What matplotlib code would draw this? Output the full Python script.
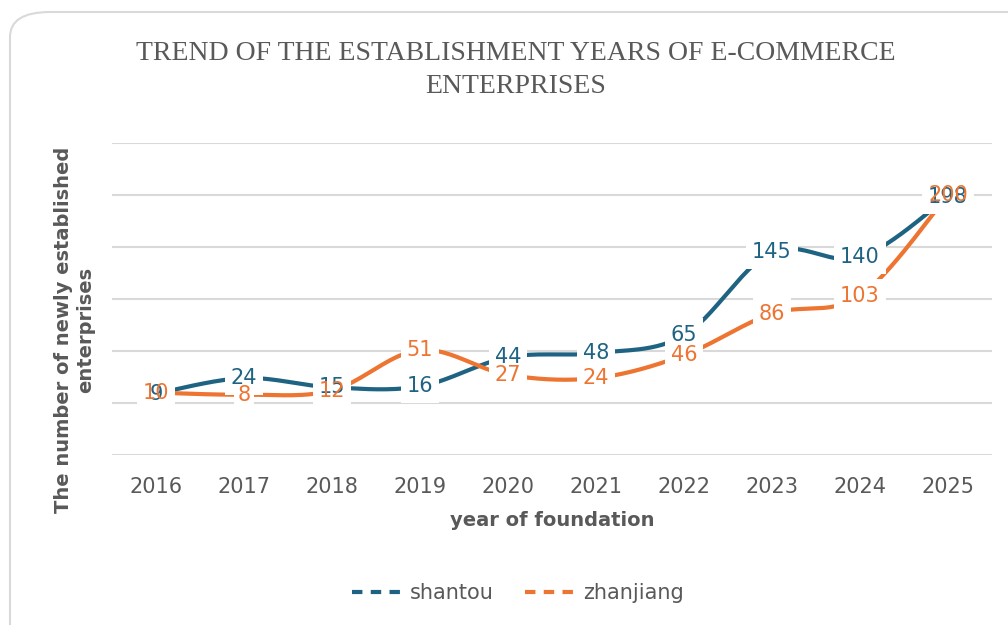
import numpy as np
import matplotlib.pyplot as plt
from matplotlib.lines import Line2D
from matplotlib.patches import FancyBboxPatch

years = ['2016', '2017', '2018', '2019', '2020', '2021', '2022', '2023', '2024', '2025']
shantou = [9, 24, 15, 16, 44, 48, 65, 145, 140, 198]
zhanjiang = [10, 8, 12, 51, 27, 24, 46, 86, 103, 200]

c_blue = '#1F6383'
c_orange = '#ED7431'
c_text = '#595959'
narrow = ['Liberation Sans Narrow', 'DejaVu Sans Condensed', 'DejaVu Sans']


def smooth(xs, ys, n=30):
    # catmull-rom curve through the points, like Excel's smoothed line
    xs = np.asarray(xs, float)
    ys = np.asarray(ys, float)
    px = np.concatenate([[xs[0]], xs, [xs[-1]]])
    py = np.concatenate([[ys[0]], ys, [ys[-1]]])
    ox, oy = [], []
    for i in range(1, len(px) - 2):
        t = np.linspace(0, 1, n)
        for arr, out in ((px, ox), (py, oy)):
            p0, p1, p2, p3 = arr[i - 1], arr[i], arr[i + 1], arr[i + 2]
            out.extend(0.5 * ((2 * p1) + (-p0 + p2) * t
                              + (2 * p0 - 5 * p1 + 4 * p2 - p3) * t ** 2
                              + (-p0 + 3 * p1 - 3 * p2 + p3) * t ** 3))
    return ox, oy


fig = plt.figure(figsize=(10.08, 6.25), dpi=100)
border = FancyBboxPatch((10 / 1008, -0.05), 1.1, 1 - 12 / 625 + 0.05,
                        boxstyle='round,pad=0,rounding_size=0.04',
                        transform=fig.transFigure, facecolor='white',
                        edgecolor='#D9D9D9', linewidth=1.5, zorder=-10)
fig.patches.append(border)

ax = fig.add_axes([112 / 1008, 1 - 455 / 625, 880 / 1008, 312 / 625])
ax.set_facecolor('none')
x = np.arange(len(years))

for vals, col in ((shantou, c_blue), (zhanjiang, c_orange)):
    sx, sy = smooth(x, vals)
    ax.plot(sx, sy, color=col, linewidth=3, solid_capstyle='butt', zorder=3)

# white label backgrounds as box markers, then the numbers on top
for vals in (shantou, zhanjiang):
    for xi, v in zip(x, vals):
        w = len(str(v)) * 9.5 + 9
        h = 24 / w
        ax.plot(xi, v, marker=[(-1, -h), (1, -h), (1, h), (-1, h)],
                markersize=w, color='white', markeredgewidth=0, zorder=4)
for vals, col in ((shantou, c_blue), (zhanjiang, c_orange)):
    for xi, v in zip(x, vals):
        ax.text(xi, v, str(v), color=col, fontsize=15, ha='center', va='center',
                zorder=5)

ax.set_xlim(-0.5, len(years) - 0.5)
ax.set_ylim(-50, 250)
ax.set_yticks(np.arange(-50, 251, 50))
ax.set_yticklabels([])
ax.grid(axis='y', color='#D9D9D9', linewidth=1.5)
ax.set_axisbelow(True)
ax.tick_params(axis='y', length=0)
ax.tick_params(axis='x', length=0, pad=16, labelcolor=c_text)
ax.set_xticks(x)
ax.set_xticklabels(years, fontsize=15, family=narrow)
for s in ax.spines.values():
    s.set_visible(False)

ax.set_xlabel('year of foundation', fontsize=14, fontweight='bold', color=c_text,
              family=narrow, labelpad=10)
fig.text(75 / 1008, 1 - 330 / 625, 'The number of newly established\nenterprises',
         rotation=90, ha='center', va='center', fontsize=14, fontweight='bold',
         color=c_text, family=narrow, linespacing=1.2)

fig.text(516 / 1008, 1 - 70 / 625,
         'TREND OF THE ESTABLISHMENT YEARS OF E-COMMERCE\nENTERPRISES',
         ha='center', va='center', fontsize=20, color=c_text,
         family=['Liberation Serif', 'DejaVu Serif'], linespacing=1.45)

handles = [Line2D([], [], color=c_blue, linewidth=3, linestyle=(0, (2.5, 2))),
           Line2D([], [], color=c_orange, linewidth=3, linestyle=(0, (2.5, 2)))]
fig.legend(handles, ['shantou', 'zhanjiang'], loc='center', ncol=2,
           bbox_to_anchor=(518 / 1008, 1 - 593 / 625), frameon=False,
           prop={'family': narrow, 'size': 15}, labelcolor=c_text,
           handlelength=2.6, handletextpad=0.2, columnspacing=1.5)

fig.savefig('out.png', dpi=100)
